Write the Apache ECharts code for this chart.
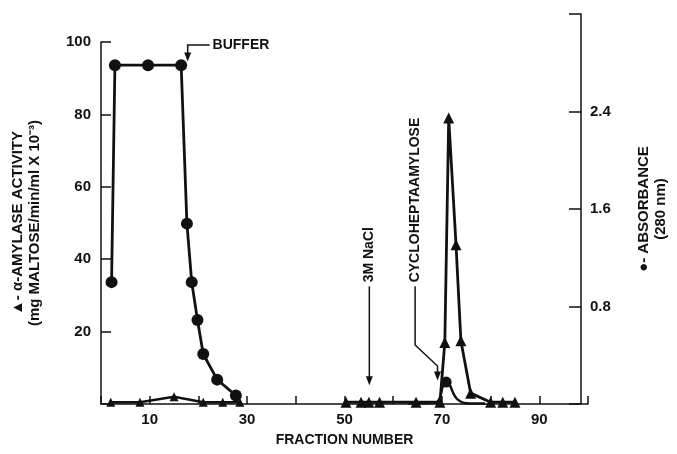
<!DOCTYPE html>
<html>
<head>
<meta charset="utf-8">
<script src="https://cdn.jsdelivr.net/npm/echarts@6/dist/echarts.min.js"></script>
<style>html,body{margin:0;padding:0;background:#fff}#c{width:677px;height:454px}</style>
</head>
<body>
<div id="c"></div>
<script>
// ---- data ----
// alpha-amylase activity (triangles), left axis
var activityWash = [[2,0.5],[8,0.5],[15,2],[21,0.5],[25,0.5],[28.5,0.5]];
var activityElution = [[50.3,0.5],[53.4,0.5],[55,0.5],[57.2,0.5],[64.7,0.5],[69.6,0.5],[70.6,17],[71.4,79],[72.9,44],[73.9,17.5],[75.9,3],[80,0.5],[82.5,0.5],[85,0.5]];
// absorbance 280 nm (circles), right axis
var absorbanceWash = [[2.2,1.0],[2.9,2.78],[9.8,2.78],[16.7,2.78],[17.9,1.48],[18.9,1.0],[20.1,0.69],[21.3,0.41],[24.2,0.2],[28.1,0.07]];
var absorbanceElution = [[64,0.005],[69.5,0.01],[71.9,0.18],[74.5,0.03],[77,0.005],[80,0.005]];
var xTickLabels = [10,30,50,70,90];
var leftTickLabels = [20,40,60,80,100];
var rightTickLabels = [0.8,1.6,2.4];
// annotations: [x, y] in activity-axis coordinates
var bufferNote = {text:'BUFFER', tip:[17.8,94.6], corner:[17.8,99.2], end:[22.3,99.2]};
var naclNote = {text:'3M NaCl', top:[55.1,32.5], tip:[55.1,5.2]};
var cycloNote = {text:'CYCLOHEPTAAMYLOSE', top:[64.5,32.5], bend:[64.5,16.3], bend2:[69.1,10.5], tip:[69.1,6.5]};

var FONT = 'Liberation Sans';
var chart = echarts.init(document.getElementById('c'));
var lbl = {fontFamily:FONT, fontWeight:'bold', fontSize:15, color:'#111'};
var option = {
  animation:false,
  grid:[
    {left:101, right:89, top:42, bottom:50},
    {left:101, right:89, top:14, bottom:50}
  ],
  xAxis:[
    {gridIndex:0, type:'value', min:0, max:100, interval:10,
     axisLine:{lineStyle:{color:'#111', width:1.5}},
     axisTick:{inside:true, length:8, lineStyle:{color:'#111', width:1.5}},
     axisLabel:Object.assign({margin:8, formatter:function(v){return xTickLabels.indexOf(v)>=0?String(v):'';}}, lbl),
     splitLine:{show:false},
     name:'FRACTION NUMBER', nameLocation:'middle', nameGap:29,
     nameTextStyle:{fontFamily:FONT, fontWeight:'bold', fontSize:14, color:'#111'}},
    {gridIndex:1, type:'value', min:0, max:100, show:false}
  ],
  yAxis:[
    {gridIndex:0, type:'value', min:0, max:100, interval:20, position:'left',
     axisLine:{show:true, onZero:false, lineStyle:{color:'#111', width:1.5}},
     axisTick:{show:true, inside:true, length:10, lineStyle:{color:'#111', width:1.5}},
     axisLabel:Object.assign({margin:10, formatter:function(v){return leftTickLabels.indexOf(v)>=0?String(v):'';}}, lbl),
     splitLine:{show:false},
     name:'\u25B2- \u03B1-AMYLASE ACTIVITY\n(mg MALTOSE/min/ml X 10\u207B\u00B3)',
     nameLocation:'middle', nameRotate:90, nameGap:58,
     nameTextStyle:{fontFamily:FONT, fontWeight:'bold', fontSize:15, color:'#111', lineHeight:17}},
    {gridIndex:1, type:'value', min:0, max:3.2, interval:0.8, position:'right',
     axisLine:{show:true, onZero:false, lineStyle:{color:'#111', width:1.5}},
     axisTick:{show:true, inside:true, length:12, lineStyle:{color:'#111', width:1.5}},
     axisLabel:Object.assign({margin:9, formatter:function(v){
        for (var i=0;i<rightTickLabels.length;i++) if (Math.abs(rightTickLabels[i]-v)<1e-6) return rightTickLabels[i].toFixed(1);
        return '';}}, lbl),
     splitLine:{show:false},
     name:'\u25CF- ABSORBANCE\n(280 nm)',
     nameLocation:'middle', nameRotate:90, nameGap:54,
     nameTextStyle:{fontFamily:FONT, fontWeight:'bold', fontSize:15, color:'#111', lineHeight:17}}
  ],
  series:[
    {type:'line', xAxisIndex:0, yAxisIndex:0, data:activityWash, symbol:'triangle', symbolSize:9,
     lineStyle:{color:'#111', width:2.5}, itemStyle:{color:'#111'}},
    {type:'line', xAxisIndex:0, yAxisIndex:0, data:activityElution, symbol:'triangle', symbolSize:11,
     lineStyle:{color:'#111', width:2.8}, itemStyle:{color:'#111'}},
    {type:'line', xAxisIndex:1, yAxisIndex:1, data:absorbanceWash, symbol:'circle', symbolSize:12,
     lineStyle:{color:'#111', width:2.8}, itemStyle:{color:'#111'}},
    {type:'line', xAxisIndex:1, yAxisIndex:1, data:absorbanceElution, symbol:'circle', smooth:0.5,
     symbolSize:function(v){return v[1]>0.1?11:0;},
     lineStyle:{color:'#111', width:2.5}, itemStyle:{color:'#111'}}
  ]
};
chart.setOption(option);

function px(p){return chart.convertToPixel({gridIndex:0}, p);}
function arrowHead(tip){
  var x=tip[0], y=tip[1];
  return {type:'polygon', shape:{points:[[x-3.5,y-9],[x+3.5,y-9],[x,y]]}, style:{fill:'#111'}};
}
var g = [];
var st = {stroke:'#111', lineWidth:1.5, fill:null};
var ann = {fontFamily:FONT, fontWeight:'bold', fontSize:14, fill:'#111', verticalAlign:'middle', align:'left'};
// BUFFER
var bt=px(bufferNote.tip), bc=px(bufferNote.corner), be=px(bufferNote.end);
g.push({type:'polyline', shape:{points:[be,bc,[bt[0],bt[1]-6]]}, style:st});
g.push(arrowHead(bt));
g.push({type:'text', x:be[0]+3, y:be[1], style:Object.assign({text:bufferNote.text}, ann)});
// 3M NaCl
var nt=px(naclNote.top), np=px(naclNote.tip);
g.push({type:'polyline', shape:{points:[nt,[np[0],np[1]-6]]}, style:st});
g.push(arrowHead(np));
g.push({type:'text', x:nt[0], y:nt[1]-4, rotation:Math.PI/2, style:Object.assign({text:naclNote.text}, ann)});
// CYCLOHEPTAAMYLOSE
var ct=px(cycloNote.top), cb=px(cycloNote.bend), cb2=px(cycloNote.bend2), cp=px(cycloNote.tip);
g.push({type:'polyline', shape:{points:[ct,cb,cb2,[cp[0],cp[1]-6]]}, style:st});
g.push(arrowHead(cp));
g.push({type:'text', x:ct[0], y:ct[1]-4, rotation:Math.PI/2, style:Object.assign({text:cycloNote.text}, ann)});
chart.setOption({graphic:g});
</script>
</body>
</html>
